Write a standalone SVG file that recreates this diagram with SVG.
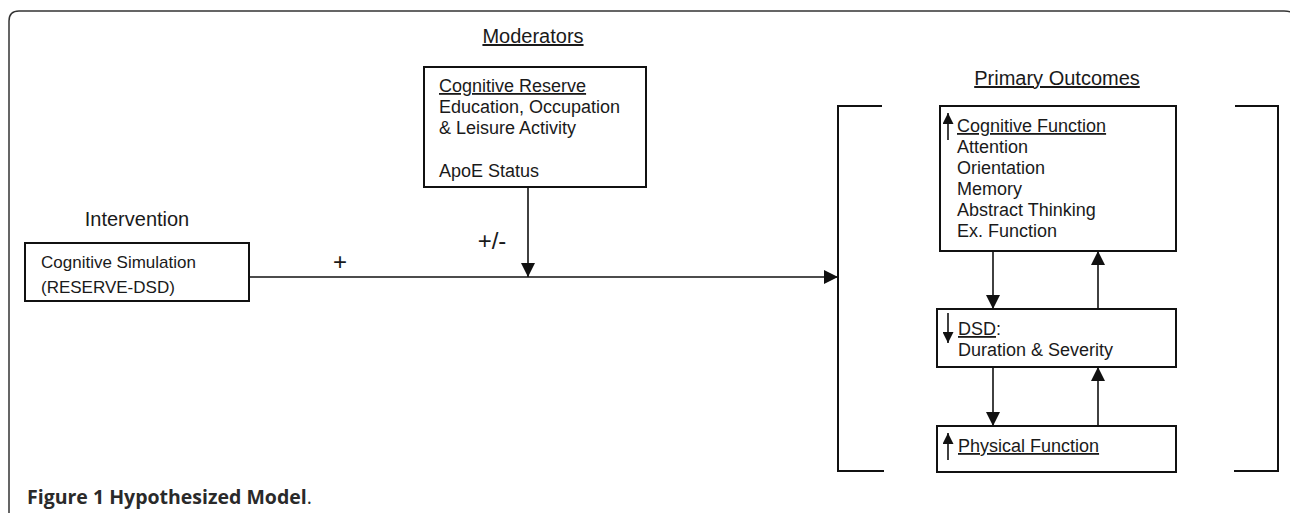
<svg xmlns="http://www.w3.org/2000/svg" width="1290" height="513" viewBox="0 0 1290 513">
<defs>
<style>
text{font-family:"Liberation Sans",Arial,sans-serif;fill:#1a1a1a}
.t18{font-size:18px}
.t17{font-size:17px}
.t20{font-size:20px}
.t24{font-size:24px}
.u{text-decoration:underline}
.box{fill:#fff;stroke:#111;stroke-width:2}
.ln{stroke:#111;stroke-width:1.6;fill:none}
.br{stroke:#111;stroke-width:2;fill:none}
.cap{font-family:"Open Sans","Liberation Sans",sans-serif;font-size:19.5px;font-weight:bold;fill:#2a2a2a}
</style>
<marker id="ah" viewBox="0 0 10 10" refX="10" refY="5" markerWidth="14" markerHeight="14" markerUnits="userSpaceOnUse" orient="auto">
<path d="M0,0 L10,5 L0,10 Z" fill="#111"/>
</marker>
<marker id="ahs" viewBox="0 0 10 10" refX="10" refY="5" markerWidth="11" markerHeight="11" markerUnits="userSpaceOnUse" orient="auto">
<path d="M0,0 L10,5 L0,10 Z" fill="#111"/>
</marker>
</defs>
<rect width="1290" height="513" fill="#fff"/>
<path d="M9,513 L9,21 Q9,11 19,11 L1284,11 Q1292,11 1294,15" fill="none" stroke="#333" stroke-width="1.5"/>

<g id="moderators-title"><text class="t20 u" x="533" y="43" text-anchor="middle">Moderators</text></g>
<g id="moderators">
<rect class="box" x="424" y="67" width="222" height="120"/>
<text class="t18" x="439" y="92"><tspan class="u">Cognitive Reserve</tspan></text>
<text class="t18" x="439" y="113">Education, Occupation</text>
<text class="t18" x="439" y="134">&amp; Leisure Activity</text>
<text class="t18" x="439" y="177">ApoE Status</text>
</g>

<g id="intervention-title"><text class="t20" x="137" y="226" text-anchor="middle">Intervention</text></g>
<g id="intervention">
<rect class="box" x="25" y="243" width="224" height="58"/>
<text class="t17" x="41" y="268">Cognitive Simulation</text>
<text class="t17" x="41" y="293">(RESERVE-DSD)</text>
</g>

<g id="outcomes-title"><text class="t20 u" x="1057" y="85" text-anchor="middle">Primary Outcomes</text></g>
<g id="outcomes-bracket">
<path class="br" d="M882,106 L838,106 L838,471 L884,471"/>
<path class="br" d="M1235,106 L1278,106 L1278,471 L1234,471"/>
</g>

<g id="cognitive-function">
<rect class="box" x="940" y="106" width="236" height="145"/>
<line class="ln" x1="948" y1="140" x2="948" y2="113" marker-end="url(#ahs)"/>
<text class="t18" x="957" y="132"><tspan class="u">Cognitive Function</tspan></text>
<text class="t18" x="957" y="153">Attention</text>
<text class="t18" x="957" y="174">Orientation</text>
<text class="t18" x="957" y="195">Memory</text>
<text class="t18" x="957" y="216">Abstract Thinking</text>
<text class="t18" x="957" y="237">Ex. Function</text>
</g>

<g id="dsd">
<rect class="box" x="937" y="309" width="239" height="58"/>
<line class="ln" x1="948" y1="313" x2="948" y2="343" marker-end="url(#ahs)"/>
<text class="t18" x="958" y="335"><tspan class="u">DSD</tspan>:</text>
<text class="t18" x="958" y="356">Duration &amp; Severity</text>
</g>

<g id="physical-function">
<rect class="box" x="937" y="426" width="239" height="46"/>
<line class="ln" x1="948" y1="460" x2="948" y2="433" marker-end="url(#ahs)"/>
<text class="t18" x="958" y="452"><tspan class="u">Physical Function</tspan></text>
</g>

<g id="connectors">
<line class="ln" x1="249" y1="277" x2="838" y2="277" marker-end="url(#ah)"/>
<line class="ln" x1="528" y1="187" x2="528" y2="277" marker-end="url(#ah)"/>
<line class="ln" x1="993" y1="251" x2="993" y2="309" marker-end="url(#ah)"/>
<line class="ln" x1="1098" y1="309" x2="1098" y2="251" marker-end="url(#ah)"/>
<line class="ln" x1="993" y1="367" x2="993" y2="426" marker-end="url(#ah)"/>
<line class="ln" x1="1098" y1="426" x2="1098" y2="367" marker-end="url(#ah)"/>
<text class="t24" x="340" y="270" text-anchor="middle">+</text>
<text class="t24" x="492" y="249" text-anchor="middle">+/-</text>
</g>

<g id="caption"><text class="cap" x="27" y="504">Figure 1 Hypothesized Model<tspan font-weight="normal">.</tspan></text></g>
</svg>
